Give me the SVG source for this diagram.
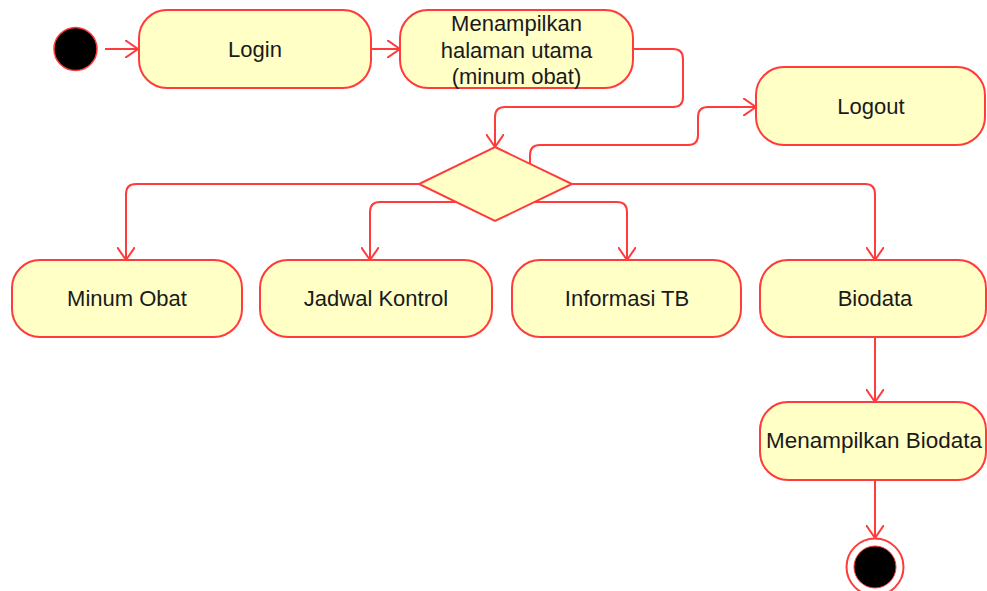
<svg xmlns="http://www.w3.org/2000/svg" width="987" height="591" viewBox="0 0 987 591">
<defs>
<style>
.act{fill:#ffffc6;stroke:#ff3b3b;stroke-width:2}
.lbl{font-family:"Liberation Sans",Arial,sans-serif;font-size:22px;fill:#1a1a1a;text-anchor:middle}
.con{fill:none;stroke:#ff3b3b;stroke-width:2;marker-end:url(#arr)}
</style>
<marker id="arr" viewBox="0 0 14 18" refX="13" refY="9" markerWidth="14" markerHeight="18" orient="auto" markerUnits="userSpaceOnUse">
<path d="M0,0 L13,9 L0,18" fill="none" stroke="#ff3b3b" stroke-width="2"/>
</marker>
</defs>
<rect width="987" height="591" fill="#ffffff"/>
<g id="connectors">
<path class="con" d="M105,49 H138"/>
<path class="con" d="M371,49 H400"/>
<path class="con" d="M633,49 H673 Q683,49 683,59 V97 Q683,107 673,107 H505 Q495,107 495,117 V147"/>
<path class="con" d="M530,164 V155 Q530,145 540,145 H688 Q698,145 698,135 V117 Q698,107 708,107 H756"/>
<path class="con" d="M419,184 H136 Q126,184 126,194 V260"/>
<path class="con" d="M456,202 H380 Q370,202 370,212 V260"/>
<path class="con" d="M534,202 H617 Q627,202 627,212 V260"/>
<path class="con" d="M572,184 H865 Q875,184 875,194 V260"/>
<path class="con" d="M875,337 V402"/>
<path class="con" d="M875,480 V538"/>
</g>
<g id="start"><circle cx="75.5" cy="49" r="21.5" fill="#000" stroke="#ff3b3b" stroke-width="1.5"/></g>
<g id="login"><rect class="act" x="139" y="10" width="232" height="78" rx="28"/><text class="lbl" x="255" y="57">Login</text></g>
<g id="halaman"><rect class="act" x="400" y="10" width="233" height="78" rx="28"/>
<text class="lbl" x="516.5" y="31">Menampilkan</text><text class="lbl" x="516.5" y="58">halaman utama</text><text class="lbl" x="516.5" y="84">(minum obat)</text></g>
<g id="logout"><rect class="act" x="756" y="67" width="229" height="78" rx="28"/><text class="lbl" x="871" y="114">Logout</text></g>
<g id="decision"><polygon class="act" points="495,147 572,184 495,221 419,184"/></g>
<g id="minum"><rect class="act" x="12" y="260" width="230" height="77" rx="28"/><text class="lbl" x="127" y="306">Minum Obat</text></g>
<g id="jadwal"><rect class="act" x="260" y="260" width="232" height="77" rx="28"/><text class="lbl" x="376" y="306">Jadwal Kontrol</text></g>
<g id="informasi"><rect class="act" x="512" y="260" width="229" height="77" rx="28"/><text class="lbl" x="627" y="306">Informasi TB</text></g>
<g id="biodata"><rect class="act" x="760" y="260" width="226" height="77" rx="28"/><text class="lbl" x="875" y="306">Biodata</text></g>
<g id="menampilkanBiodata"><rect class="act" x="760" y="402" width="226" height="78" rx="28"/><text class="lbl" x="874" y="448" textLength="216" lengthAdjust="spacingAndGlyphs">Menampilkan Biodata</text></g>
<g id="end"><circle cx="875" cy="567" r="28.5" fill="#fff" stroke="#ff3b3b" stroke-width="2"/><circle cx="875" cy="567" r="21" fill="#000" stroke="#ff3b3b" stroke-width="1"/></g>
</svg>
